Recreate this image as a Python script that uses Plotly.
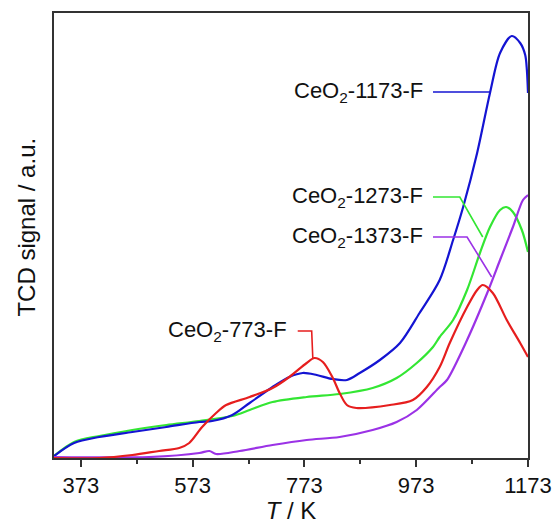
import plotly.graph_objects as go

# ---- data (T in K, TCD signal in arbitrary units) ----
blue_T = [325, 361, 406, 465, 526, 585, 608, 644, 675, 716, 746, 770, 795, 823, 849, 872,
          908, 944, 979, 1015, 1039, 1057, 1082, 1105, 1123, 1144, 1159, 1168, 1171, 1173]
blue_v = [2, 15, 21, 26, 31, 36, 37, 43, 55, 71, 81, 85, 83, 79, 78, 85,
          98, 115, 145, 178, 218, 251, 305, 365, 405, 422, 415, 403, 388, 365]

green_T = [325, 361, 406, 465, 526, 585, 644, 675, 716, 777, 836, 895, 938, 974, 1003,
           1015, 1039, 1064, 1087, 1105, 1123, 1134, 1146, 1162, 1173]
green_v = [2, 16, 22, 28, 33, 37, 42, 48, 56, 61, 64, 70, 80, 95, 111,
           121, 138, 168, 205, 231, 248, 251, 246, 228, 206]

red_T = [325, 406, 465, 513, 549, 567, 590, 615, 633, 675, 716, 746, 777, 791, 806, 823,
         836, 849, 866, 926, 967, 992, 1015, 1033, 1064, 1082, 1092, 1110, 1135, 1159, 1173]
red_v = [0, 0, 3, 7, 10, 15, 31, 45, 53, 61, 70, 81, 95, 100, 96, 81,
         65, 53, 50, 53, 58, 71, 91, 115, 151, 168, 173, 165, 138, 115, 101]

purple_T = [325, 495, 585, 603, 615, 657, 716, 777, 836, 895, 938, 974, 1015, 1028,
            1064, 1100, 1123, 1146, 1164, 1173]
purple_v = [1, 1, 5, 7, 4, 7, 13, 18, 21, 28, 36, 48, 71, 78,
            118, 165, 198, 231, 258, 263]

labels = ["CeO<sub>2</sub>-773-F", "CeO<sub>2</sub>-1173-F",
          "CeO<sub>2</sub>-1273-F", "CeO<sub>2</sub>-1373-F"]
tick_vals = [373, 573, 773, 973, 1173]
minor_vals = [473, 673, 873, 1073]

FONT = "Liberation Sans, Arial, sans-serif"
c_blue, c_green, c_red, c_purple = "#1414d2", "#33e633", "#e61e1e", "#9b32e6"

fig = go.Figure()
for T, v, c, name in [(green_T, green_v, c_green, labels[2]),
                      (blue_T, blue_v, c_blue, labels[1]),
                      (purple_T, purple_v, c_purple, labels[3]),
                      (red_T, red_v, c_red, labels[0])]:
    fig.add_trace(go.Scatter(x=T, y=v, mode="lines", name=name,
                             line=dict(color=c, width=2.2, shape="spline", smoothing=0.85)))

# leader lines + labels
leaders = [
    (labels[1], c_blue, [(1003, 366), (1105, 366)], (988, 366)),
    (labels[2], c_green, [(1003, 261), (1051, 261), (1092, 221)], (988, 261)),
    (labels[3], c_purple, [(1003, 221), (1064, 221), (1108, 181)], (988, 221)),
    (labels[0], c_red, [(761, 127), (786, 127), (788, 100)], (746, 127)),
]
for text, c, pts, tpos in leaders:
    path = "M " + " L ".join(f"{x},{y}" for x, y in pts)
    fig.add_shape(type="path", path=path, xref="x", yref="y",
                  line=dict(color=c, width=1.6))
    fig.add_annotation(x=tpos[0], y=tpos[1], text=text, showarrow=False,
                       xanchor="right", yanchor="middle",
                       font=dict(family=FONT, size=22, color="#111"))

# y-axis title as annotation (positioned like the reference)
fig.add_annotation(xref="paper", yref="paper", x=-0.057, y=0.52,
                   text="TCD signal / a.u.", textangle=-90, showarrow=False,
                   xanchor="center", yanchor="middle",
                   font=dict(family=FONT, size=24, color="#111"))

fig.update_layout(
    width=554, height=524,
    margin=dict(l=54, r=26, t=13, b=66, autoexpand=False),
    paper_bgcolor="white", plot_bgcolor="white",
    showlegend=False,
    font=dict(family=FONT, size=22, color="#111"),
)
fig.update_xaxes(range=[325, 1173], tickvals=tick_vals, automargin=False,
                 ticks="outside", ticklen=7, tickwidth=1.5, tickcolor="#333",
                 minor=dict(tickvals=minor_vals, ticks="outside",
                            ticklen=4, tickwidth=1.5, tickcolor="#333"),
                 showline=True, linecolor="#333", linewidth=1.5, mirror=True,
                 showgrid=False, zeroline=False,
                 tickfont=dict(size=22),
                 title=dict(text="<i>T</i> / K", font=dict(size=24), standoff=6))
fig.update_yaxes(range=[0, 445], showticklabels=False, ticks="", automargin=False,
                 showline=True, linecolor="#333", linewidth=1.5, mirror=True,
                 showgrid=False, zeroline=False)

fig.write_html("out.html")
